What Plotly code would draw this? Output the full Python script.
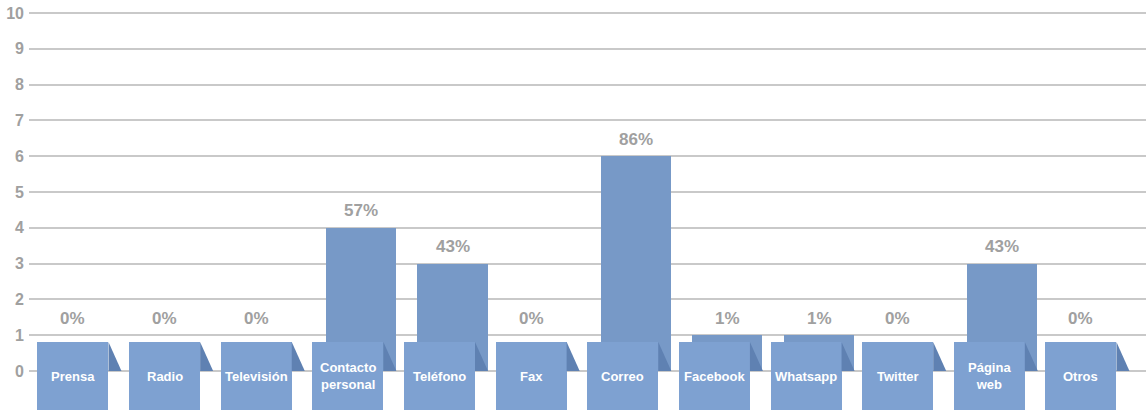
import plotly.graph_objects as go

# Canales de comunicación: número de respuestas y porcentaje
categorias = ["Prensa", "Radio", "Televisión", "Contacto<br>personal", "Teléfono", "Fax",
              "Correo", "Facebook", "Whatsapp", "Twitter", "Página<br>web", "Otros"]
respuestas = [0, 0, 0, 4, 3, 0, 6, 1, 1, 0, 3, 0]
porcentajes = ["0%", "0%", "0%", "57%", "43%", "0%", "86%", "1%", "1%", "0%", "43%", "0%"]
ticks_y = list(range(0, 11))

COLOR_BARRA = "#7799c7"
COLOR_CAJA = "#7ea1d1"
COLOR_PLIEGUE = "#5f81b2"
GRIS = "#a0a0a0"
FUENTE = "Arial, Liberation Sans, sans-serif"

pos = list(range(len(categorias)))
ancho_barra = 0.765
desplaz = 0.142          # la barra queda un poco a la derecha de su etiqueta
ancho_caja = 0.775
techo_caja = 0.81
fondo_caja = -1.6

fig = go.Figure()

# Barras de valores
fig.add_trace(go.Bar(
    x=pos, y=respuestas, width=ancho_barra, offset=-ancho_barra / 2 + desplaz,
    marker=dict(color=COLOR_BARRA, line=dict(width=0)), hoverinfo="skip",
))

# Cajas de las etiquetas de categoría
fig.add_trace(go.Bar(
    x=pos, y=[techo_caja - fondo_caja] * len(pos), base=fondo_caja,
    width=ancho_caja, offset=-ancho_caja / 2,
    marker=dict(color=COLOR_CAJA, line=dict(width=0)), hoverinfo="skip",
))

# Pliegue triangular a la derecha de cada caja
shapes = []
for i in pos:
    xd = i + ancho_caja / 2
    shapes.append(dict(
        type="path", xref="x", yref="y", layer="above",
        path=f"M {xd} {techo_caja} L {xd + desplaz} 0 L {xd} 0 Z",
        fillcolor=COLOR_PLIEGUE, line=dict(width=0),
    ))

annotations = []
for i, (cat, v, p) in enumerate(zip(categorias, respuestas, porcentajes)):
    # Porcentaje sobre la barra
    annotations.append(dict(
        x=i + (desplaz if v > 0 else 0), y=max(v, 1), xref="x", yref="y",
        text=f"<b>{p}</b>", showarrow=False, yanchor="middle", yshift=17,
        font=dict(family=FUENTE, size=17, color=GRIS),
    ))
    # Nombre de la categoría dentro de la caja
    annotations.append(dict(
        x=i, y=-0.15, xref="x", yref="y", text=f"<b>{cat}</b>", showarrow=False,
        yanchor="middle", align="center",
        font=dict(family=FUENTE, size=13, color="white"),
    ))

fig.update_layout(
    width=1146, height=410,
    margin=dict(l=29, r=0, t=0, b=0),
    paper_bgcolor="white", plot_bgcolor="white",
    showlegend=False, barmode="overlay", bargap=0,
    shapes=shapes, annotations=annotations,
    xaxis=dict(range=[-0.48, 11.71], showgrid=False, zeroline=False,
               showticklabels=False, fixedrange=True),
    yaxis=dict(range=[-1.089, 10.363], tickvals=ticks_y,
               ticktext=[f"<b>{t}</b>" for t in ticks_y], showgrid=True,
               gridcolor="#c9c9c9", gridwidth=2, zeroline=False, ticks="",
               ticklabelstandoff=4,
               tickfont=dict(family=FUENTE, size=16, color=GRIS),
               fixedrange=True),
)

fig.write_html("out.html")
